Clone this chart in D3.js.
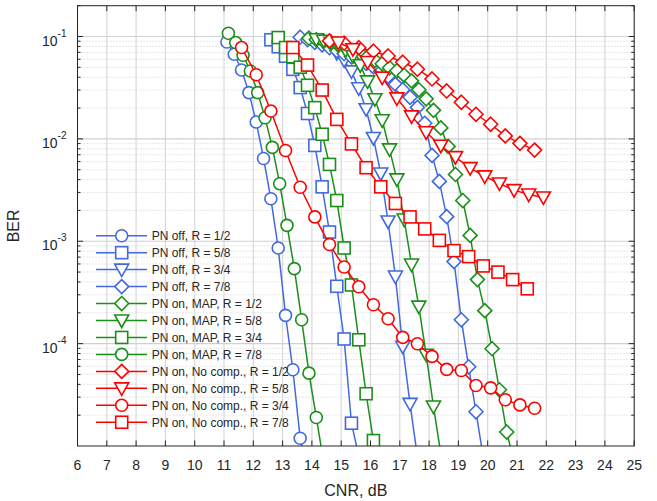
<!DOCTYPE html>
<html>
<head>
<meta charset="utf-8">
<script src="https://cdn.jsdelivr.net/npm/d3@7"></script>
<style>
  body { margin: 0; background: #fff; }
  text { font-family: "Liberation Sans", Arial, sans-serif; fill: #262626; }
</style>
</head>
<body>
<div id="chart"></div>
<script>
// PN off
var cnrOff12 = [11.1, 11.35, 11.6, 11.85, 12.1, 12.35, 12.6, 12.85, 13.1, 13.35, 13.6, 13.85];
var berOff12 = [0.0885, 0.0671, 0.0471, 0.0283, 0.0146, 0.00644, 0.0026, 8.6e-4, 1.89e-4, 5.56e-5, 1.19e-5, 5.4e-6];
var cnrOff58 = [12.6, 12.85, 13.1, 13.35, 13.6, 13.85, 14.1, 14.35, 14.6, 14.85, 15.1, 15.35, 15.6];
var berOff58 = [0.093, 0.0794, 0.0642, 0.0478, 0.0317, 0.0177, 0.00863, 0.0034, 0.00123, 3.63e-4, 1.11e-4, 1.67e-5, 8e-6];
var cnrOff34 = [14.1, 14.35, 14.6, 14.85, 15.1, 15.35, 15.6, 15.85, 16.1, 16.35, 16.6, 16.85, 17.1, 17.35, 17.6];
var berOff34 = [0.0941, 0.086, 0.0786, 0.0687, 0.0586, 0.0457, 0.0312, 0.0195, 0.0102, 0.00459, 0.00156, 4.52e-4, 9.33e-5, 2.58e-5, 7.9e-6];
var cnrOff78 = [13.6, 13.85, 14.1, 14.35, 14.6, 14.85, 15.1, 15.35, 15.6, 15.85, 16.1, 16.35, 16.6, 16.85, 17.1, 17.35, 17.6, 17.85, 18.1, 18.35, 18.6, 18.85, 19.1, 19.35, 19.6, 19.85];
var berOff78 = [0.0984, 0.093, 0.0879, 0.0831, 0.0777, 0.0726, 0.0679, 0.0634, 0.0593, 0.0548, 0.0506, 0.0457, 0.0409, 0.0341, 0.0302, 0.0255, 0.0203, 0.0142, 0.0069, 0.00384, 0.00174, 6.33e-4, 1.71e-4, 5.94e-5, 2.16e-5, 7.7e-6];

// PN on, MAP
var cnrMap12 = [13.9, 14.15, 14.4, 14.65, 14.9, 15.15, 15.4, 15.65, 15.9, 16.15, 16.4, 16.65, 16.9, 17.15, 17.4, 17.65, 17.9, 18.15, 18.4, 18.65, 18.9, 19.15, 19.4, 19.65, 19.9, 20.15, 20.4, 20.65, 20.9];
var berMap12 = [0.0962, 0.093, 0.0899, 0.086, 0.0822, 0.0777, 0.0734, 0.0686, 0.0634, 0.0586, 0.0542, 0.0495, 0.0463, 0.0418, 0.0369, 0.0302, 0.0246, 0.019, 0.0128, 0.00844, 0.00449, 0.0025, 0.00114, 4.22e-4, 2.1e-4, 8.92e-5, 3.54e-5, 1.37e-5, 7e-6];
var cnrMap58 = [14.15, 14.4, 14.65, 14.9, 15.15, 15.4, 15.65, 15.9, 16.15, 16.4, 16.65, 16.9, 17.15, 17.4, 17.65, 17.9, 18.15, 18.4];
var berMap58 = [0.0941, 0.091, 0.087, 0.0813, 0.0734, 0.0642, 0.0524, 0.0365, 0.0244, 0.0152, 0.0079, 0.00402, 0.00163, 5.92e-4, 2.3e-4, 7.79e-5, 2.43e-5, 8.4e-6];
var cnrMap34 = [12.85, 13.1, 13.35, 13.6, 13.85, 14.1, 14.35, 14.6, 14.85, 15.1, 15.35, 15.6, 15.85, 16.1];
var berMap34 = [0.0977, 0.078, 0.0634, 0.0501, 0.0334, 0.0202, 0.0111, 0.00563, 0.0025, 8.6e-4, 3.74e-4, 1.09e-4, 3.24e-5, 1.13e-5];
var cnrMap78 = [11.15, 11.4, 11.65, 11.9, 12.15, 12.4, 12.65, 12.9, 13.15, 13.4, 13.65, 13.9, 14.15, 14.4];
var berMap78 = [0.1077, 0.0873, 0.0656, 0.046, 0.0283, 0.0161, 0.00826, 0.00365, 0.00143, 5.4e-4, 1.71e-4, 5.15e-5, 1.9e-5, 7e-6];

// PN on, no compensation
var cnrNc12 = [14.6, 15.1, 15.6, 16.1, 16.6, 17.1, 17.6, 18.1, 18.6, 19.1, 19.6, 20.1, 20.6, 21.1, 21.6];
var berNc12 = [0.0906, 0.086, 0.0777, 0.0718, 0.0646, 0.0561, 0.0479, 0.0385, 0.0294, 0.0228, 0.0174, 0.0139, 0.0107, 0.00904, 0.00777];
var cnrNc58 = [14.9, 15.4, 15.9, 16.4, 16.9, 17.4, 17.9, 18.4, 18.9, 19.4, 19.9, 20.4, 20.9, 21.4, 21.9];
var berNc58 = [0.0873, 0.0752, 0.0563, 0.0397, 0.0249, 0.0166, 0.0116, 0.00857, 0.00663, 0.00518, 0.0043, 0.00367, 0.00316, 0.00286, 0.00268];
var cnrNc34 = [11.6, 12.1, 12.6, 13.1, 13.6, 14.1, 14.6, 15.1, 15.6, 16.1, 16.6, 17.1, 17.6, 18.1, 18.6, 19.1, 19.6, 20.1, 20.6, 21.1, 21.6];
var berNc34 = [0.078, 0.0423, 0.0187, 0.0077, 0.00337, 0.00173, 9.29e-4, 5.6e-4, 3.59e-4, 2.4e-4, 1.75e-4, 1.15e-4, 9.98e-5, 7.5e-5, 5.6e-5, 5.46e-5, 3.9e-5, 3.7e-5, 2.83e-5, 2.52e-5, 2.34e-5];
var cnrNc78 = [13.35, 13.85, 14.35, 14.85, 15.35, 15.85, 16.35, 16.85, 17.35, 17.85, 18.35, 18.85, 19.35, 19.85, 20.35, 20.85, 21.35];
var berNc78 = [0.078, 0.0526, 0.030, 0.0155, 0.00893, 0.00523, 0.0034, 0.00234, 0.00173, 0.00132, 0.00102, 8.1e-4, 7.08e-4, 5.74e-4, 5.0e-4, 4.22e-4, 3.43e-4];

var xTicks = [6, 7, 8, 9, 10, 11, 12, 13, 14, 15, 16, 17, 18, 19, 20, 21, 22, 23, 24, 25];
var yDecades = [-1, -2, -3, -4];

var blue = "#4169e1", green = "#1a8f1a", red = "#ff0000";

var series = [
  {label: "PN off, R = 1/2", color: blue, mk: "circle", x: cnrOff12, y: berOff12},
  {label: "PN off, R = 5/8", color: blue, mk: "square", x: cnrOff58, y: berOff58},
  {label: "PN off, R = 3/4", color: blue, mk: "tri", x: cnrOff34, y: berOff34},
  {label: "PN off, R = 7/8", color: blue, mk: "diamond", x: cnrOff78, y: berOff78},
  {label: "PN on, MAP, R = 1/2", color: green, mk: "diamond", x: cnrMap12, y: berMap12},
  {label: "PN on, MAP, R = 5/8", color: green, mk: "tri", x: cnrMap58, y: berMap58},
  {label: "PN on, MAP, R = 3/4", color: green, mk: "square", x: cnrMap34, y: berMap34},
  {label: "PN on, MAP, R = 7/8", color: green, mk: "circle", x: cnrMap78, y: berMap78},
  {label: "PN on, No comp., R = 1/2", color: red, mk: "diamond", x: cnrNc12, y: berNc12},
  {label: "PN on, No comp., R = 5/8", color: red, mk: "tri", x: cnrNc58, y: berNc58},
  {label: "PN on, No comp., R = 3/4", color: red, mk: "circle", x: cnrNc34, y: berNc34},
  {label: "PN on, No comp., R = 7/8", color: red, mk: "square", x: cnrNc78, y: berNc78}
];

var margin = {top: 5.7, right: 22.8, bottom: 55, left: 77.5},
    width = 657 - margin.left - margin.right,
    height = 501 - margin.top - margin.bottom;

var x = d3.scaleLinear().domain([6, 25]).range([0, width]);
var y = d3.scaleLog().domain([1e-5, 0.2]).range([height, 0]);

var svg = d3.select("#chart").append("svg")
    .attr("width", 657)
    .attr("height", 501)
  .append("g")
    .attr("transform", "translate(" + margin.left + "," + margin.top + ")");

svg.append("clipPath").attr("id", "clip")
  .append("rect").attr("width", width).attr("height", height);

// minor y values
var minorY = [];
for (var e = -5; e <= -1; e++) {
  for (var k = 2; k <= 9; k++) {
    var v = k * Math.pow(10, e);
    if (v <= 0.2) minorY.push(v);
  }
}

// grid
var grid = svg.append("g");
grid.selectAll(".ymin").data(minorY).enter().append("line")
    .attr("x1", 0).attr("x2", width)
    .attr("y1", function(d) { return y(d); }).attr("y2", function(d) { return y(d); })
    .style("stroke", "#c4c4c4").style("stroke-width", 0.8)
    .style("stroke-dasharray", "1,2");
grid.selectAll(".xg").data(xTicks).enter().append("line")
    .attr("x1", function(d) { return x(d); }).attr("x2", function(d) { return x(d); })
    .attr("y1", 0).attr("y2", height)
    .style("stroke", "#d9d9d9").style("stroke-width", 1.2);
grid.selectAll(".yg").data(yDecades).enter().append("line")
    .attr("x1", 0).attr("x2", width)
    .attr("y1", function(d) { return y(Math.pow(10, d)); })
    .attr("y2", function(d) { return y(Math.pow(10, d)); })
    .style("stroke", "#d0d0d0").style("stroke-width", 1.2);

// markers
function marker(g, type, color) {
  var m;
  if (type === "circle") {
    m = g.append("circle").attr("r", 6);
  } else if (type === "square") {
    m = g.append("rect").attr("x", -6).attr("y", -6).attr("width", 12).attr("height", 12);
  } else if (type === "tri") {
    m = g.append("path").attr("d", "M-7,-5.5L7,-5.5L0,7Z");
  } else {
    m = g.append("path").attr("d", "M0,-7L7,0L0,7L-7,0Z");
  }
  m.style("fill", "#fff").style("stroke", color).style("stroke-width", 1.6);
}

var plot = svg.append("g").attr("clip-path", "url(#clip)");
var line = d3.line()
    .x(function(d) { return x(d[0]); })
    .y(function(d) { return y(d[1]); });

series.forEach(function(s) {
  var pts = s.x.map(function(c, i) { return [c, s.y[i]]; });
  var g = plot.append("g");
  g.append("path").datum(pts)
    .attr("d", line)
    .style("fill", "none").style("stroke", s.color).style("stroke-width", 1.5);
  pts.filter(function(p) { return p[1] >= 1e-5; }).forEach(function(p) {
    var mg = g.append("g").attr("transform", "translate(" + x(p[0]) + "," + y(p[1]) + ")");
    marker(mg, s.mk, s.color);
  });
});

// frame and ticks
var axc = "#262626";
svg.append("rect").attr("width", width).attr("height", height)
  .style("fill", "none").style("stroke", axc).style("stroke-width", 1);

var ticks = svg.append("g").style("stroke", axc).style("stroke-width", 1);
xTicks.forEach(function(t) {
  ticks.append("line").attr("x1", x(t)).attr("x2", x(t)).attr("y1", height).attr("y2", height - 5.5);
  ticks.append("line").attr("x1", x(t)).attr("x2", x(t)).attr("y1", 0).attr("y2", 5.5);
});
yDecades.forEach(function(d) {
  var yy = y(Math.pow(10, d));
  ticks.append("line").attr("x1", 0).attr("x2", 5.5).attr("y1", yy).attr("y2", yy);
  ticks.append("line").attr("x1", width).attr("x2", width - 5.5).attr("y1", yy).attr("y2", yy);
});
minorY.forEach(function(v) {
  var yy = y(v);
  ticks.append("line").attr("x1", 0).attr("x2", 3).attr("y1", yy).attr("y2", yy);
  ticks.append("line").attr("x1", width).attr("x2", width - 3).attr("y1", yy).attr("y2", yy);
});

// tick labels
svg.selectAll(".xl").data(xTicks).enter().append("text")
    .attr("x", function(d) { return x(d); })
    .attr("y", height + 24)
    .style("text-anchor", "middle").style("font-size", "14px")
    .text(function(d) { return d; });

var yl = svg.selectAll(".yl").data(yDecades).enter().append("text")
    .attr("x", -11)
    .attr("y", function(d) { return y(Math.pow(10, d)) + 9; })
    .style("text-anchor", "end").style("font-size", "14px");
yl.append("tspan").text("10");
yl.append("tspan").attr("dy", -9).style("font-size", "10px")
  .text(function(d) { return "-" + (-d); });

// axis titles
svg.append("text")
    .attr("x", width / 2).attr("y", height + 50)
    .style("text-anchor", "middle").style("font-size", "16px")
    .text("CNR, dB");
svg.append("text")
    .attr("transform", "translate(" + (-59) + "," + (height / 2) + ") rotate(-90)")
    .style("text-anchor", "middle").style("font-size", "16px")
    .text("BER");

// legend
var legend = svg.append("g").attr("transform", "translate(" + (96 - margin.left) + "," + (235.7 - margin.top) + ")");
series.forEach(function(s, i) {
  var row = legend.append("g").attr("transform", "translate(0," + (i * 16.96) + ")");
  row.append("line").attr("x1", 0).attr("x2", 51).attr("y1", 0).attr("y2", 0)
    .style("stroke", s.color).style("stroke-width", 1.5);
  var mg = row.append("g").attr("transform", "translate(25.7,0)");
  marker(mg, s.mk, s.color);
  row.append("text").attr("x", 55.7).attr("y", 4.3)
    .style("font-size", "12px")
    .text(s.label);
});
</script>
</body>
</html>
